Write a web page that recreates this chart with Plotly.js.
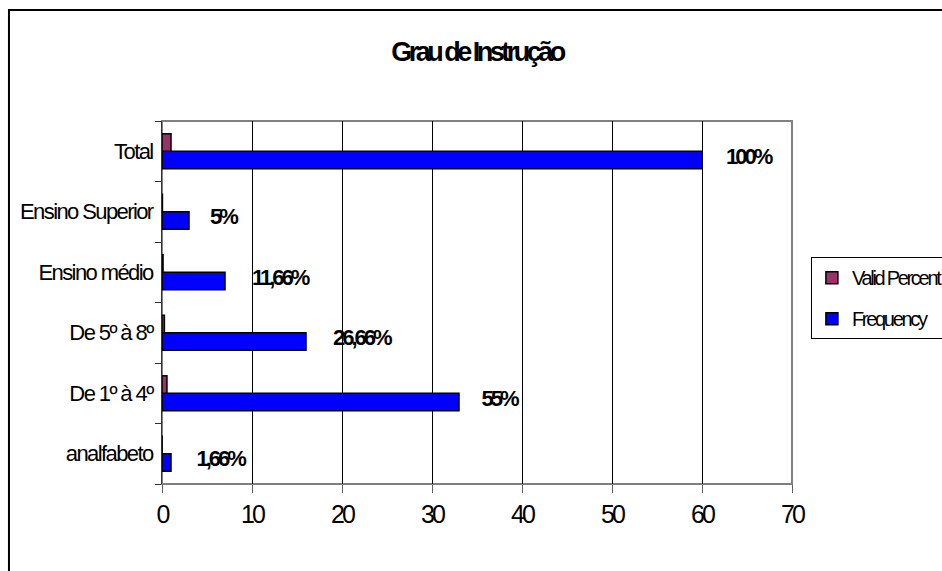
<!DOCTYPE html>
<html>
<head>
<meta charset="utf-8">
<script src="https://cdn.plot.ly/plotly-3.0.1.min.js"></script>
<style>
html,body{margin:0;padding:0;background:#fff;}
#chart{width:942px;height:571px;}
#chart .ytick text{letter-spacing:-1.6px;}
#chart .xtick text{letter-spacing:-3px;}
#chart .gtitle{letter-spacing:-3.5px;}
#chart .legendtext{letter-spacing:-2.3px;}
#chart .annotation-text{letter-spacing:-3px;}
</style>
</head>
<body>
<div id="chart"></div>
<script>
const categories = ["analfabeto", "De 1º à 4º", "De 5º à 8º", "Ensino médio", "Ensino Superior", "Total"];
const frequency = [1, 33, 16, 7, 3, 60];
const validPercent = [0.0166, 0.55, 0.2666, 0.1166, 0.05, 1.0];
const percentLabels = ["1,66%", "55%", "26,66%", "11,66%", "5%", "100%"];
const xTicks = [0, 10, 20, 30, 40, 50, 60, 70];

const FONT = "'Liberation Sans', Arial, sans-serif";

const traces = [
  {
    type: "bar", orientation: "h", name: "Frequency",
    y: categories, x: frequency,
    legendgroup: "f", legendrank: 2,
    marker: {color: "#0000FF", line: {color: "#000000", width: 1.5}},
    hoverinfo: "skip"
  },
  {
    type: "bar", orientation: "h", name: "Valid Percent",
    y: categories, x: validPercent,
    legendgroup: "v", legendrank: 1,
    marker: {color: "#993366", line: {color: "#000000", width: 1.5}},
    hoverinfo: "skip"
  }
];

const annotations = categories.map((c, i) => ({
  x: frequency[i], y: c, xref: "x", yref: "y",
  text: "<b>" + percentLabels[i] + "</b>",
  showarrow: false, xanchor: "left", yanchor: "middle",
  xshift: 16, yshift: -5,
  font: {family: FONT, size: 22, color: "#000"}
}));

const layout = {
  width: 942, height: 571,
  margin: {l: 162, r: 150, t: 121, b: 87, pad: 0, autoexpand: false},
  paper_bgcolor: "#ffffff", plot_bgcolor: "#ffffff",
  font: {family: FONT, color: "#000"},
  title: {
    text: "<b>Grau de Instrução</b>",
    font: {family: FONT, size: 27, color: "#000"},
    xref: "paper", x: 0.5, xanchor: "center",
    yref: "container", y: 0.909, yanchor: "middle"
  },
  barmode: "group", bargap: 0.42, bargroupgap: 0,
  xaxis: {
    range: [0, 70], tickvals: xTicks, ticktext: xTicks.map(String),
    showgrid: true, gridcolor: "#000000", gridwidth: 1,
    zeroline: false, showline: false,
    ticks: "outside", ticklen: 8, tickcolor: "#606060", tickwidth: 1,
    tickfont: {family: FONT, size: 25, color: "#000"},
    fixedrange: true
  },
  yaxis: {
    type: "category", categoryorder: "array", categoryarray: categories,
    showgrid: false, zeroline: false,
    showline: true, linecolor: "#333333", linewidth: 1,
    ticks: "outside", tickson: "boundaries", ticklen: 6, tickcolor: "#333333",
    tickfont: {family: FONT, size: 22, color: "#000"},
    ticklabelstandoff: 4,
    fixedrange: true
  },
  legend: {
    x: 1.030, xanchor: "left", y: 0.625, yanchor: "top",
    bgcolor: "#ffffff", bordercolor: "#000000", borderwidth: 1,
    traceorder: "grouped", tracegroupgap: 12,
    font: {family: FONT, size: 20, color: "#000"},
    itemwidth: 30
  },
  shapes: [
    {type: "rect", xref: "paper", yref: "paper", x0: 0, x1: 1, y0: 0, y1: 1,
     line: {color: "#808080", width: 2}, layer: "below"},
    {type: "rect", xref: "paper", yref: "paper", x0: -0.2429, x1: 1.35, y0: -0.4, y1: 1.3058,
     line: {color: "#000000", width: 2}, layer: "below"}
  ],
  annotations: annotations,
  showlegend: true
};

Plotly.newPlot("chart", traces, layout, {displayModeBar: false, staticPlot: true});
</script>
</body>
</html>
